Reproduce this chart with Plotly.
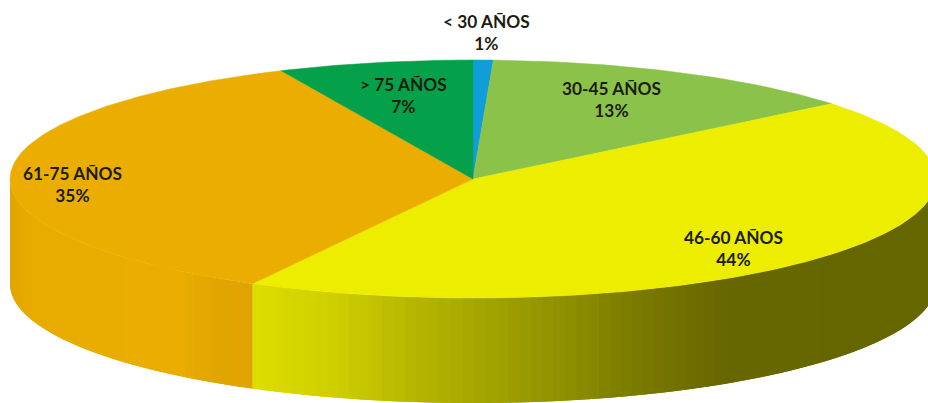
import numpy as np
import plotly.graph_objects as go

categories = ["< 30 AÑOS", "30-45 AÑOS", "46-60 AÑOS", "61-75 AÑOS", "> 75 AÑOS"]
percent_labels = [1, 13, 44, 35, 7]
shares = [0.7, 13.4, 43.8, 35.3, 6.8]
top_colors = ["#0F9ED8", "#8BC34A", "#EDED00", "#EBAE00", "#04A04A"]
# wall shading: (x pixel, colour) stops per slice
wall_stops = {
    2: [(253, (222, 222, 0)), (330, (208, 208, 0)), (430, (178, 178, 0)),
        (540, (150, 150, 0)), (640, (122, 122, 0)), (720, (104, 104, 0)), (928, (102, 102, 0))],
    3: [(10, (224, 166, 0)), (30, (232, 172, 0)), (180, (235, 174, 0)),
        (200, (228, 168, 0)), (253, (224, 163, 0))],
}
label_pos = [(486, 32), (611, 99), (733, 248), (72, 184), (403, 95)]

CX, CY, RX, RY, DEPTH = 473, 179, 463, 119, 105


def ell(t):
    return CX + RX * np.sin(t), CY - RY * np.cos(t)


fig = go.Figure()
edges = 2 * np.pi * np.concatenate([[0], np.cumsum(shares)]) / sum(shares)


def add_poly(x, y, color, width=0.0):
    fig.add_trace(go.Scatter(x=x, y=y, mode="lines", fill="toself", fillcolor=color,
                             line=dict(color=color, width=width), hoverinfo="skip",
                             showlegend=False))


# side walls (only front half of the disc is visible); each strip overlaps the next one
for i, stops in wall_stops.items():
    a0, a1 = max(edges[i], np.pi / 2), min(edges[i + 1], 3 * np.pi / 2)
    ts = np.linspace(a0, a1, int((a1 - a0) * 40) + 2)
    xs_s = [s[0] for s in stops]
    for k in range(len(ts) - 1):
        t_end = ts[min(k + 2, len(ts) - 1)]
        arc = np.linspace(ts[k], t_end, 6)
        x, y = ell(arc)
        mx = float(ell((ts[k] + ts[k + 1]) / 2)[0])
        rgb = [np.interp(mx, xs_s, [s[1][j] for s in stops]) for j in range(3)]
        c = "rgb(%d,%d,%d)" % tuple(rgb)
        add_poly(np.r_[x, x[::-1], x[0]], np.r_[y, y[::-1] + DEPTH, y[0]], c)

# top wedges
for i, col in enumerate(top_colors):
    ts = np.linspace(edges[i], edges[i + 1], max(int((edges[i + 1] - edges[i]) * 80), 4))
    x, y = ell(ts)
    add_poly(np.r_[CX, x, CX], np.r_[CY, y, CY], col, width=0.5)

for name, p, (lx, ly) in zip(categories, percent_labels, label_pos):
    fig.add_annotation(x=lx, y=ly, text=f"{name}<br>{p}%", showarrow=False, xref="x", yref="y",
                       font=dict(family="Lato", size=17.3, color="#1C1C10", weight="bold"),
                       align="center")

fig.update_layout(
    width=928, height=403, margin=dict(l=0, r=0, t=0, b=0),
    paper_bgcolor="white", plot_bgcolor="white", showlegend=False,
    xaxis=dict(range=[0, 928], visible=False, fixedrange=True),
    yaxis=dict(range=[403, 0], visible=False, fixedrange=True),
)
fig.write_html("out.html", config={"displayModeBar": False},
               post_script="document.body.style.margin='0';document.documentElement.style.overflow='hidden';")
